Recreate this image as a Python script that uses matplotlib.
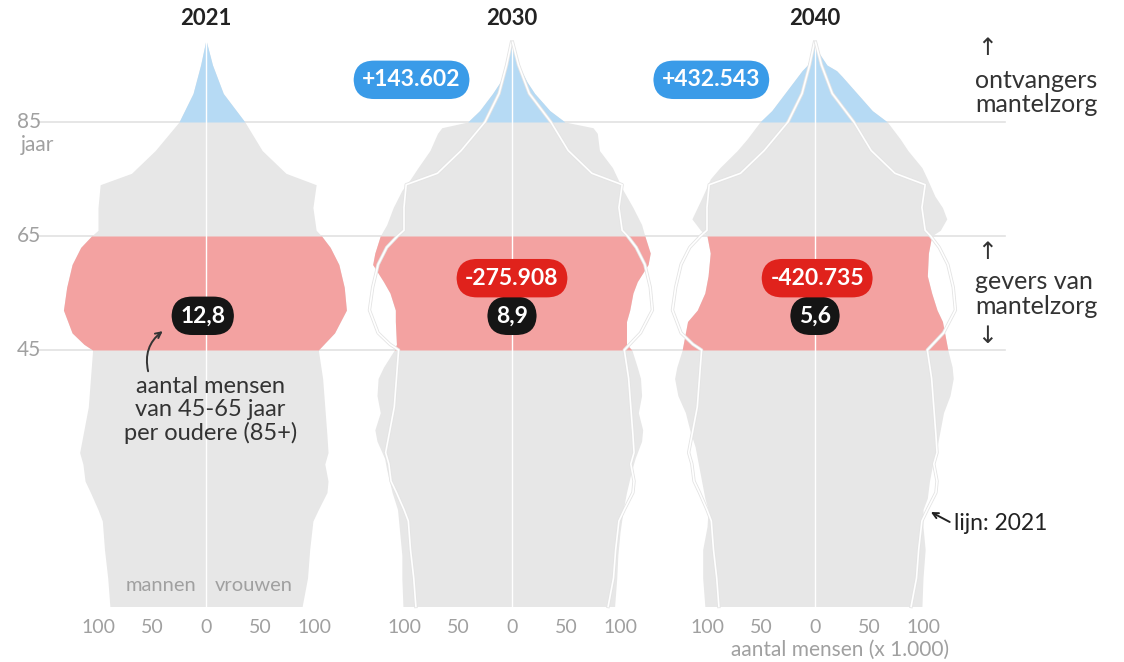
import numpy as np
import matplotlib
matplotlib.use("Agg")
import matplotlib.pyplot as plt
import matplotlib.patheffects as pe
import matplotlib.transforms as mtransforms

plt.rcParams['font.family'] = ['Lato', 'DejaVu Sans']

# ---------------- data (thousands of people per year of age) ----------------
years = ["2021", "2030", "2040"]

ages_2021 = [0, 5, 10, 15, 17, 20, 22, 25, 27, 30, 35, 40, 45, 46, 48, 52, 56, 60, 63, 65, 66, 70, 74, 76, 80, 85, 90, 95, 99]
men_2021 = [89, 91, 94, 96, 100, 107, 112, 114, 117, 114, 109, 107, 105, 113, 124, 132, 129, 124, 116, 106, 100, 100, 98, 69, 47, 25, 12, 5, 0.5]
women_2021 = [89, 94, 96, 99, 104, 112, 113, 110, 113, 112, 110, 108, 104, 109, 119, 130, 128, 123, 115, 107, 102, 99, 102, 74, 52, 36, 16, 6, 0.5]

ages_2030 = [0, 5, 9, 13, 17, 20, 24, 26, 29, 31, 34, 37, 40, 42, 45, 46, 50, 52, 55, 57, 60, 62, 65, 67, 70, 73, 75, 77, 80, 83, 84, 85, 87, 90, 92, 95, 99]
men_2030 = [101, 102, 102, 104, 106, 111, 116, 118, 125, 127, 122, 125, 124, 119, 109, 107, 108, 108, 113, 119, 129, 127, 122, 116, 110, 102, 94, 87, 76, 69, 65, 41, 30, 18, 11, 5, 0.5]
women_2030 = [95, 97, 98, 100, 103, 106, 111, 114, 120, 121, 117, 120, 119, 116, 111, 106, 106, 109, 112, 116, 126, 128, 123, 120, 112, 103, 98, 93, 81, 79, 75, 49, 35, 21, 14, 6, 0.5]

ages_2040 = [0, 5, 10, 14, 17, 19, 22, 25, 28, 31, 34, 37, 40, 42, 45, 46, 50, 52, 55, 58, 62, 65, 66, 68, 70, 72, 75, 77, 80, 82, 85, 87, 90, 93, 94, 95, 97, 99]
men_2040 = [102, 104, 104, 100, 99, 102, 105, 108, 111, 116, 120, 127, 130, 128, 123, 122, 118, 109, 102, 99, 97, 100, 106, 114, 109, 104, 97, 88, 72, 63, 51, 40, 28, 16, 12, 7, 3, 0.5]
women_2040 = [99, 100, 102, 100, 100, 104, 106, 109, 113, 116, 119, 125, 128, 127, 123, 122, 118, 113, 108, 104, 105, 108, 116, 122, 118, 111, 104, 99, 86, 79, 67, 53, 39, 25, 20, 11, 4, 0.5]

receivers_change = ["", "+143.602", "+432.543"]
givers_change = ["", "-275.908", "-420.735"]
ratio_labels = ["12,8", "8,9", "5,6"]

tick_values = [-100, -50, 0, 50, 100]
tick_labels = ["100", "50", "0", "50", "100"]
age_lines = [45, 65, 85]
age_labels = ["45", "65", "85"]

# ---------------- style ----------------
W, H = 1124, 662
GREY = "#e7e7e7"
RED = "#f3a2a1"
BLUE = "#b6daf4"
TXT_GREY = "#a0a0a0"
DARK = "#222222"

fig = plt.figure(figsize=(W / 100, H / 100), dpi=100)
fig.patch.set_facecolor("white")

def fx(px):
    return px / W

def fy(py):
    return 1 - py / H

XLIM = 140
PX_PER_UNIT = 1.08
PX_PER_YEAR = 5.7
AGE0_PY = 606.5
centers = [206, 512, 815]

panels = [
    (ages_2021, men_2021, women_2021),
    (ages_2030, men_2030, women_2030),
    (ages_2040, men_2040, women_2040),
]

axes = []
for c in centers:
    half = XLIM * PX_PER_UNIT
    ax = fig.add_axes([fx(c - half), fy(AGE0_PY), 2 * half / W, 100 * PX_PER_YEAR / H])
    ax.set_xlim(-XLIM, XLIM)
    ax.set_ylim(0, 100)
    ax.patch.set_alpha(0)
    for s in ax.spines.values():
        s.set_visible(False)
    axes.append(ax)

# horizontal age lines across the figure
trans_lines = mtransforms.blended_transform_factory(fig.transFigure, axes[0].transData)
for a, lab in zip(age_lines, age_labels):
    axes[0].plot([fx(38), fx(1005)], [a, a], color="#e2e2e2", lw=1.2,
                 transform=trans_lines, clip_on=False, zorder=0)
    axes[0].text(fx(29), a, lab, transform=trans_lines, ha="center", va="center",
                 fontsize=15, color=TXT_GREY)
axes[0].text(fx(37), 85 - 4.0, "jaar", transform=trans_lines, ha="center", va="center",
             fontsize=15, color=TXT_GREY)

badge_kw = dict(ha="center", va="center", fontsize=16.5, fontweight="bold",
                color="white", zorder=6)
BOX = "round,pad=0.38,rounding_size=0.9"

for i, (ax, (ages, men, women)) in enumerate(zip(axes, panels)):
    ages = np.array(ages, dtype=float)
    m = np.array(men, dtype=float)
    w = np.array(women, dtype=float)
    ax.fill_betweenx(ages, -m, w, color=GREY, lw=0, zorder=1)
    sel = (ages >= 45) & (ages <= 65)
    ax.fill_betweenx(ages[sel], -m[sel], w[sel], color=RED, lw=0, zorder=2)
    sel = ages >= 85
    ax.fill_betweenx(ages[sel], -m[sel], w[sel], color=BLUE, lw=0, zorder=2)
    ax.plot([0, 0], [0, ages.max()], color="white", lw=1.0, zorder=3)
    if i > 0:
        a21 = np.array(ages_2021, dtype=float)
        for xs in (-np.array(men_2021, dtype=float), np.array(women_2021, dtype=float)):
            ax.plot(xs, a21, color="white", lw=1.2, zorder=4, clip_on=False,
                    solid_joinstyle="round",
                    path_effects=[pe.Stroke(linewidth=2.4, foreground="#e4e4e4"), pe.Normal()])
    ax.set_xticks(tick_values)
    ax.set_xticklabels(tick_labels, fontsize=14, color=TXT_GREY)
    ax.tick_params(axis="x", length=0, pad=9)
    ax.set_yticks([])
    ax.text(0, 103.2, years[i], ha="center", va="center", fontsize=16,
            fontweight="bold", color=DARK)
    # badges
    ax.text(0 if i else -3, 51, ratio_labels[i],
            bbox=dict(boxstyle=BOX, fc="#151515", ec="none"), **badge_kw)
    if i > 0:
        ax.text(-93 if i == 1 else -96, 92.4, receivers_change[i],
                bbox=dict(boxstyle=BOX, fc="#3a9be8", ec="none"), **badge_kw)
        ax.text(0 if i == 1 else 2, 57.6, givers_change[i],
                bbox=dict(boxstyle=BOX, fc="#e0221c", ec="none"), **badge_kw)

# labels in 2021 panel
ax0 = axes[0]
ax0.text(-42, 3.7, "mannen", ha="center", va="center", fontsize=14.5, color=TXT_GREY, zorder=5)
ax0.text(44, 3.7, "vrouwen", ha="center", va="center", fontsize=14.5, color=TXT_GREY, zorder=5)
ax0.text(4, 34.5, "aantal mensen\nvan 45-65 jaar\nper oudere (85+)", ha="center", va="center",
         fontsize=17, color="#333333", linespacing=1.12, zorder=5)
ax0.annotate("", xy=(-38, 48.6), xytext=(-53, 40.8),
             arrowprops=dict(arrowstyle="->", color="#333333", lw=1.4,
                             connectionstyle="arc3,rad=-0.35"), zorder=5)

# 2040 panel annotations
ax2 = axes[2]
ax2.text(129, 14.6, "lijn: 2021", ha="left", va="center", fontsize=16.5, color="#222222")
ax2.annotate("", xy=(105, 16.8), xytext=(127, 14.6),
             arrowprops=dict(arrowstyle="->", color="#222222", lw=1.4))

# right-side annotations
RTXT = "#333333"
fig.text(fx(987), fy(48), "\u2191", ha="center", va="center", fontsize=17, color=RTXT,
         family=["DejaVu Sans"])
fig.text(fx(975), fy(80), "ontvangers", ha="left", va="center", fontsize=18, color=RTXT)
fig.text(fx(975), fy(104), "mantelzorg", ha="left", va="center", fontsize=18, color=RTXT)
fig.text(fx(987), fy(252), "\u2191", ha="center", va="center", fontsize=17, color=RTXT,
         family=["DejaVu Sans"])
fig.text(fx(975), fy(281), "gevers van", ha="left", va="center", fontsize=18, color=RTXT)
fig.text(fx(975), fy(306), "mantelzorg", ha="left", va="center", fontsize=18, color=RTXT)
fig.text(fx(987), fy(336), "\u2193", ha="center", va="center", fontsize=17, color=RTXT,
         family=["DejaVu Sans"])

fig.text(fx(840), fy(650), "aantal mensen (x 1.000)", ha="center", va="center",
         fontsize=15, color=TXT_GREY)

fig.savefig("out.png", dpi=100, facecolor="white")
